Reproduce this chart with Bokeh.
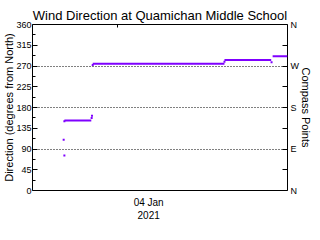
from bokeh.plotting import figure
from bokeh.models import Range1d, LinearAxis, FixedTicker
from bokeh.embed import file_html
from bokeh.resources import INLINE

# hours relative to 2021-01-04 00:00
seg_start = [-11.9, -7.9, 10.7, 17.5]
seg_end = [-8.1, 10.7, 17.3, 19.6]
seg_dir = [152, 275, 283, 291]
pt_time = [-12.0, -11.9, -11.9, -8.05, -8.0, -7.9, 10.7, 17.35]
pt_dir = [110, 76, 150, 157, 162, 272, 279, 278]

y_ticks = [0, 45, 90, 135, 180, 225, 270, 315, 360]
compass = {0: "N", 45: "", 90: "E", 135: "", 180: "S", 225: "", 270: "W", 315: "", 360: "N"}
x_tick = [0]
x_tick_label = {0: "04 Jan\n2021"}
top_tick = [-4.4]

PURPLE = "#7f00ff"
FONT = "Liberation Sans"

p = figure(width=320, height=240, output_backend="svg", toolbar_location=None,
           x_range=Range1d(-16.4, 19.6), y_range=Range1d(0, 360),
           x_axis_location=None, y_axis_location=None,
           min_border_left=32, min_border_right=33, min_border_top=24, min_border_bottom=50)
p.outline_line_color = "black"
p.outline_line_width = 1
p.background_fill_color = "white"
p.border_fill_color = "white"

p.title.text = "Wind Direction at Quamichan Middle School"
p.title.text_font = FONT
p.title.text_font_size = "13px"
p.title.text_font_style = "normal"
p.title.text_color = "black"
p.title.align = "center"
p.title.standoff = 4


def style(ax):
    ax.major_tick_line_color = "black"
    ax.minor_tick_line_color = "black"
    ax.major_label_text_color = "black"
    ax.axis_label_text_color = "black"
    ax.axis_line_color = None
    ax.major_label_text_font = FONT
    ax.axis_label_text_font = FONT
    ax.axis_label_text_font_style = "normal"


left = LinearAxis(ticker=FixedTicker(ticks=y_ticks, minor_ticks=[22.5 + 45 * i for i in range(8)]))
style(left)
left.major_tick_in = 5
left.major_tick_out = 0
left.minor_tick_in = 3
left.minor_tick_out = 0
left.major_label_standoff = 1
left.major_label_text_font_size = "9px"
left.axis_label = "Direction (degrees from North)"
left.axis_label_text_font_size = "11px"
left.axis_label_standoff = -2
p.add_layout(left, "left")

right = LinearAxis(ticker=FixedTicker(ticks=y_ticks), major_label_overrides=compass)
style(right)
right.major_tick_in = 5
right.major_tick_out = 0
right.major_label_standoff = 3
right.major_label_text_font_size = "9px"
right.axis_label = "Compass Points"
right.axis_label_text_font_size = "11px"
right.axis_label_standoff = -2
p.add_layout(right, "right")

bottom = LinearAxis(ticker=FixedTicker(ticks=x_tick), major_label_overrides=x_tick_label)
style(bottom)
bottom.major_tick_in = 0
bottom.major_tick_out = 0
bottom.major_label_standoff = 6
bottom.major_label_text_font_size = "10px"
p.add_layout(bottom, "below")

top = LinearAxis(ticker=FixedTicker(ticks=top_tick))
style(top)
top.major_tick_in = 3
top.major_tick_out = 0
top.major_label_text_font_size = "1px"
top.major_label_text_color = None
top.major_label_standoff = 0
p.add_layout(top, "above")

p.xgrid.visible = False
p.ygrid.ticker = FixedTicker(ticks=[90, 180, 270])
p.ygrid.grid_line_color = "black"
p.ygrid.grid_line_dash = "1 2"
p.ygrid.grid_line_width = 1

p.segment(x0=seg_start, y0=seg_dir, x1=seg_end, y1=seg_dir, line_color=PURPLE, line_width=2)
p.scatter(x=pt_time, y=pt_dir, marker="square", size=2, line_color=None, fill_color=PURPLE)

open("out.html", "w").write(file_html(p, INLINE))
